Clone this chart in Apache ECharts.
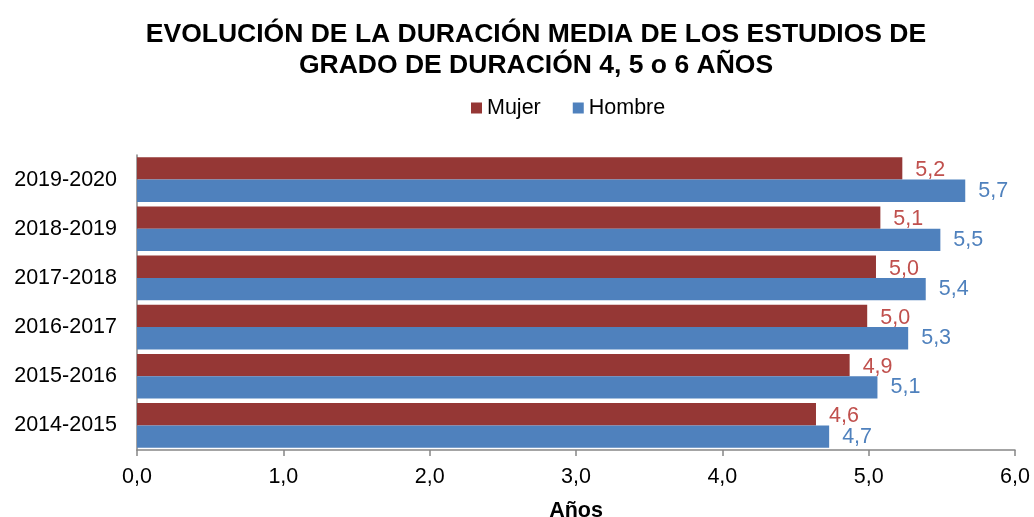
<!DOCTYPE html>
<html><head><meta charset="utf-8">
<script src="https://cdn.jsdelivr.net/npm/echarts@6/dist/echarts.min.js"></script>
<style>html,body{margin:0;padding:0;background:#fff}#c{width:1034px;height:517px}</style>
</head><body><div id="c"></div>
<script>
const categories = ['2014-2015','2015-2016','2016-2017','2017-2018','2018-2019','2019-2020'];
const mujer = [4.64, 4.87, 4.99, 5.05, 5.08, 5.23];
const hombre = [4.73, 5.06, 5.27, 5.39, 5.49, 5.66];
const xTicks = [0,1,2,3,4,5,6];

const fmt = v => v.toFixed(1).replace('.', ',');
const chart = echarts.init(document.getElementById('c'));
const F = 'Liberation Sans, Arial, sans-serif';
const FS = 21.5;
chart.setOption({
  animation:false,
  title:{
    text:'EVOLUCIÓN DE LA DURACIÓN MEDIA DE LOS ESTUDIOS DE\nGRADO DE DURACIÓN 4, 5 o 6 AÑOS',
    left:531, top:14, textAlign:'center',
    textStyle:{fontFamily:F, fontSize:26.5, fontWeight:'bold', color:'#000', lineHeight:31}
  },
  legend:{
    top:92, left:466, itemWidth:11, itemHeight:11, itemGap:32, icon:'rect',
    textStyle:{fontFamily:F, fontSize:FS, color:'#000'},
    data:['Mujer','Hombre']
  },
  grid:{left:137, right:19, top:155, bottom:67, containLabel:false, outerBoundsMode:'none'},
  xAxis:{
    type:'value', min:xTicks[0], max:xTicks[xTicks.length-1], interval:1,
    name:'Años', nameLocation:'middle', nameGap:50,
    nameTextStyle:{fontFamily:F, fontSize:FS, fontWeight:'bold', color:'#000'},
    axisLine:{show:true, lineStyle:{color:'#868686', width:1.5}},
    axisTick:{show:true, length:6, lineStyle:{color:'#868686', width:1.5}},
    splitLine:{show:false},
    axisLabel:{fontFamily:F, fontSize:FS, color:'#000', margin:16, formatter:v=>fmt(v)}
  },
  yAxis:{
    type:'category', data:categories,
    axisLine:{show:true, lineStyle:{color:'#868686', width:1.5}},
    axisTick:{show:false},
    axisLabel:{fontFamily:F, fontSize:FS, color:'#000', margin:20}
  },
  series:[
    {name:'Mujer', type:'bar', data:mujer, barGap:'0%', barCategoryGap:'9%',
     itemStyle:{color:'#953735'},
     label:{show:true, position:'right', distance:13, formatter:p=>fmt(p.value),
            fontFamily:F, fontSize:FS, color:'#c0504d', offset:[0,2]}},
    {name:'Hombre', type:'bar', data:hombre, barGap:'0%', barCategoryGap:'9%',
     itemStyle:{color:'#4f81bd'},
     label:{show:true, position:'right', distance:13, formatter:p=>fmt(p.value),
            fontFamily:F, fontSize:FS, color:'#4f81bd', offset:[0,0]}}
  ]
});
</script></body></html>
